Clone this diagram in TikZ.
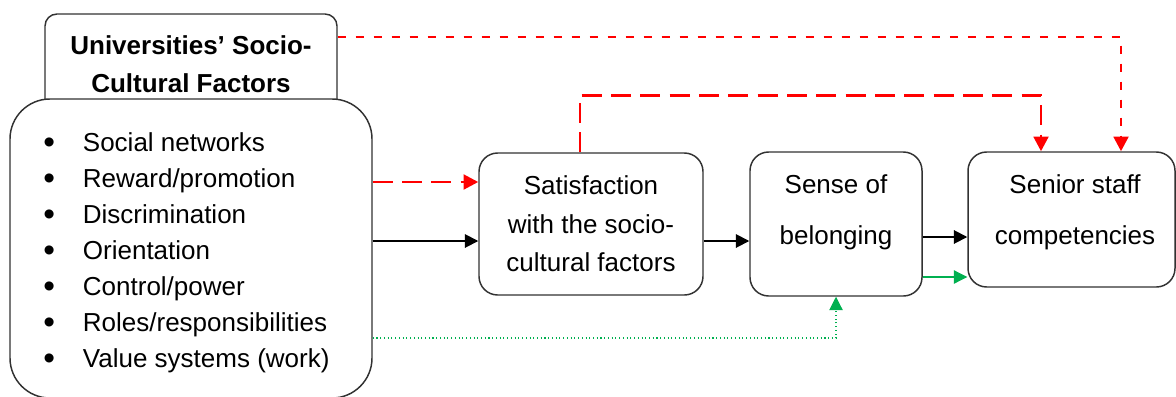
\documentclass[tikz,border=0pt]{standalone}
\usepackage{fontspec}
\setmainfont{Liberation Sans}
\usepackage{tikz}
\usetikzlibrary{arrows.meta,shapes,positioning}
\usepackage{xcolor}
\definecolor{fgred}{RGB}{255,0,0}
\definecolor{fggreen}{RGB}{0,176,80}
\definecolor{fgedge}{RGB}{50,50,50}
\newcommand{\fgbullet}{\raisebox{-1.5pt}{\fontsize{25}{27}\selectfont\textbullet}}
\tikzstyle{box} = [draw=fgedge, line width=1.1pt, rounded corners=14pt, fill=white]
\tikzstyle{arrow} = [line width=1.4pt, -{Triangle[length=10pt, width=10pt]}]
\tikzstyle{redlong} = [line width=2.2pt, color=fgred, dash pattern=on 15pt off 7pt, -{Triangle[length=11pt, width=11pt]}]
\tikzstyle{redshort} = [line width=2.2pt, color=fgred, dash pattern=on 6pt off 7.5pt, -{Triangle[length=11pt, width=11pt]}]
\tikzstyle{greenline} = [line width=0.8pt, color=fggreen, -{Triangle[length=10pt, width=10pt]}]

\begin{document}
\begin{tikzpicture}[x=0.75pt, y=-0.75pt]
\useasboundingbox (0,0) rectangle (1176,396);

% Socio-cultural factors
\node[box, rounded corners=9pt, minimum width=219pt, minimum height=75.75pt,
      font=\fontsize{19.5}{28.5}\selectfont\bfseries, align=center] (ttl) at (191,64.5)
      {Universities’ Socio-\\Cultural Factors};
\node[box, rounded corners=30pt, minimum width=271.5pt, minimum height=224.25pt] (big) at (191,248.5) {};
\node[font=\fontsize{19.5}{27}\selectfont, anchor=west, inner sep=0pt] (list) at (43,252.5)
      {\begin{tabular}{@{}l@{\hspace{21pt}}l@{}}
       \fgbullet & Social networks\\
       \fgbullet & Reward/promotion\\
       \fgbullet & Discrimination\\
       \fgbullet & Orientation\\
       \fgbullet & Control/power\\
       \fgbullet & Roles/responsibilities\\
       \fgbullet & Value systems (work)
       \end{tabular}};

% Mediators and outcome
\node[box, minimum width=168pt, minimum height=106.5pt,
      font=\fontsize{19.5}{28.9}\selectfont, align=center] (sat) at (591,224)
      {Satisfaction\\with the socio-\\cultural factors};
\node[box, minimum width=129pt, minimum height=108pt] (bel) at (836,224) {};
\node[font=\fontsize{19.5}{38}\selectfont, align=center] (belt) at (836,212.5) {Sense of\\belonging};
\node[box, minimum width=155.25pt, minimum height=101.25pt] (sen) at (1071.5,219.5) {};
\node[font=\fontsize{19.5}{38}\selectfont, align=center] (sent) at (1075,212.5) {Senior staff\\competencies};

% Arrows
\draw[arrow] (big.east |- 0,241) -- (sat.west |- 0,241);
\draw[arrow] (sat.east |- 0,241) -- (bel.west |- 0,241);
\draw[arrow] (bel.east |- 0,237) -- (sen.west |- 0,237);
\draw[redlong] (big.east |- 0,182) -- (sat.west |- 0,182);
\draw[redlong] (sat.north -| 580,0) -- ++(0,-57) -| (sen.north -| 1041,0);
\draw[redshort] (ttl.east |- 0,37) -| (sen.north -| 1121,0);
\draw[greenline] (bel.east |- 0,277) -- (sen.west |- 0,277);
\draw[greenline, dotted] (big.east |- 0,338) -| (bel.south);
\end{tikzpicture}
\end{document}
